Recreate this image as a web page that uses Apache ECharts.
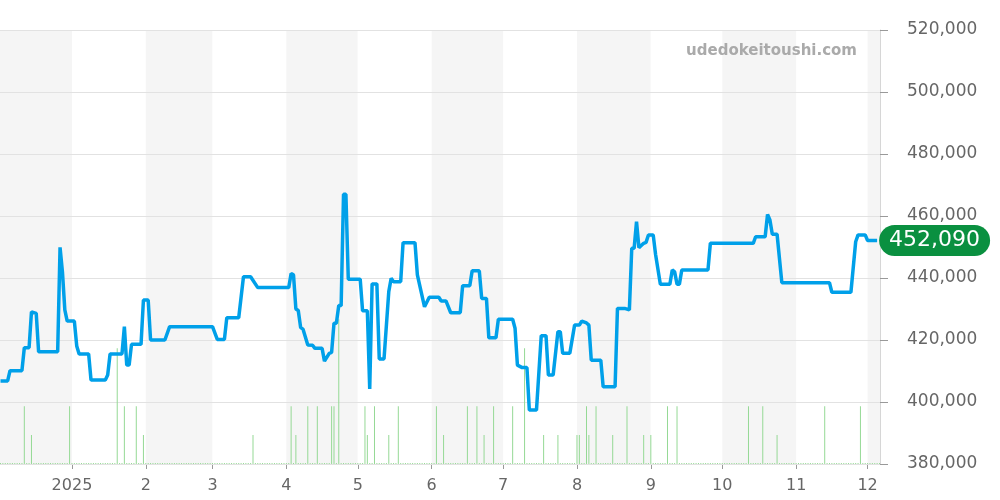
<!DOCTYPE html>
<html>
<head>
<meta charset="utf-8">
<script src="https://cdn.jsdelivr.net/npm/echarts@6/dist/echarts.min.js"></script>
<style>
  html, body { margin: 0; padding: 0; background: #fff; }
  #main { width: 1000px; height: 500px; }
</style>
</head>
<body>
<div id="main"></div>
<script>
// price line (date, yen)
var priceDates = [
  "2024-12-02", "2024-12-05", "2024-12-06", "2024-12-11", "2024-12-12", "2024-12-14", "2024-12-15", "2024-12-17",
  "2024-12-18", "2024-12-26", "2024-12-27", "2024-12-28", "2024-12-29", "2024-12-30", "2025-01-02", "2025-01-03",
  "2025-01-04", "2025-01-08", "2025-01-09", "2025-01-15", "2025-01-16", "2025-01-17", "2025-01-22", "2025-01-23",
  "2025-01-24", "2025-01-25", "2025-01-26", "2025-01-30", "2025-01-31", "2025-02-02", "2025-02-03", "2025-02-09",
  "2025-02-11", "2025-03-01", "2025-03-03", "2025-03-06", "2025-03-07", "2025-03-12", "2025-03-14", "2025-03-17",
  "2025-03-20", "2025-04-02", "2025-04-03", "2025-04-04", "2025-04-05", "2025-04-06", "2025-04-07", "2025-04-08",
  "2025-04-10", "2025-04-12",
  "2025-04-13", "2025-04-16", "2025-04-17", "2025-04-19", "2025-04-20", "2025-04-21", "2025-04-22", "2025-04-23",
  "2025-04-24", "2025-04-25", "2025-04-26", "2025-04-27", "2025-05-02", "2025-05-03", "2025-05-05", "2025-05-06",
  "2025-05-07", "2025-05-09", "2025-05-10", "2025-05-12", "2025-05-14", "2025-05-15", "2025-05-16", "2025-05-19",
  "2025-05-20", "2025-05-25", "2025-05-26", "2025-05-29", "2025-05-31", "2025-06-04", "2025-06-05", "2025-06-07",
  "2025-06-09", "2025-06-13", "2025-06-14", "2025-06-17", "2025-06-18", "2025-06-21", "2025-06-22", "2025-06-24",
  "2025-06-25", "2025-06-28", "2025-06-29", "2025-07-05", "2025-07-06", "2025-07-07", "2025-07-09", "2025-07-11",
  "2025-07-12", "2025-07-15", "2025-07-17", "2025-07-19", "2025-07-20", "2025-07-22", "2025-07-24", "2025-07-25",
  "2025-07-26", "2025-07-29", "2025-07-31", "2025-08-02", "2025-08-03", "2025-08-05", "2025-08-06", "2025-08-07",
  "2025-08-11", "2025-08-12", "2025-08-17", "2025-08-18", "2025-08-21", "2025-08-23", "2025-08-24", "2025-08-25",
  "2025-08-26", "2025-08-27", "2025-08-29", "2025-08-30", "2025-08-31", "2025-09-02", "2025-09-03", "2025-09-05",
  "2025-09-09", "2025-09-10", "2025-09-11", "2025-09-12", "2025-09-13", "2025-09-14", "2025-09-25", "2025-09-26",
  "2025-10-14", "2025-10-15", "2025-10-19", "2025-10-20", "2025-10-21", "2025-10-22", "2025-10-24", "2025-10-26",
  "2025-11-15", "2025-11-16", "2025-11-24", "2025-11-26", "2025-11-27", "2025-11-30", "2025-12-01", "2025-12-05"
];
var priceValues = [
  406800, 406800, 410100, 410100, 417500, 417500, 429100, 428600,
  416200, 416200, 449900, 442000, 429700, 426100, 426100, 418100,
  415500, 415500, 407100, 407100, 408700, 415500, 415500, 424300,
  411900, 411900, 418600, 418600, 432900, 432900, 420000, 420000,
  424300, 424300, 420200, 420200, 427200, 427200, 440400, 440400,
  436900, 436900, 441400, 441000, 430000, 429500, 424000, 423500,
  418400, 418300,
  417300, 417300, 413200, 415700, 416000, 425400, 425400, 431100,
  431100, 467000, 467000, 439600, 439600, 429400, 429400, 404200,
  438100, 438100, 413900, 413900, 435600, 439900, 438800, 438800,
  451400, 451400, 441000, 430700, 433800, 433800, 432600, 432600,
  428800, 428800, 437500, 437500, 442300, 442300, 433400, 433400,
  420700, 420700, 426700, 426700, 423800, 411900, 411100, 411100,
  397400, 397400, 421400, 421400, 408700, 408700, 422700, 422700,
  415700, 415700, 424800, 424800, 426100, 425500, 424800, 413500,
  413500, 404900, 404900, 430200, 430200, 429700, 449600, 449600,
  458200, 449800, 451200, 451500, 453900, 453900, 447600, 438000,
  438000, 442600, 442000, 438000, 438000, 442600, 442600, 451200,
  451200, 453300, 453300, 460500, 458700, 454100, 454100, 438500,
  438500, 435400, 435400, 451700, 453900, 453900, 452090, 452090
];

// sales count per day
var volDates = [
  "2024-12-12", "2024-12-15", "2024-12-31", "2025-01-20", "2025-01-23", "2025-01-28", "2025-01-31", "2025-03-18",
  "2025-04-03", "2025-04-05", "2025-04-10", "2025-04-14", "2025-04-20", "2025-04-21", "2025-04-23", "2025-05-04",
  "2025-05-05", "2025-05-08", "2025-05-14", "2025-05-18", "2025-06-03", "2025-06-06", "2025-06-16", "2025-06-20",
  "2025-06-23", "2025-06-27", "2025-07-05", "2025-07-10", "2025-07-18", "2025-07-24", "2025-08-01", "2025-08-02",
  "2025-08-05", "2025-08-06", "2025-08-09", "2025-08-16", "2025-08-22", "2025-08-29", "2025-09-01", "2025-09-08",
  "2025-09-12", "2025-10-12", "2025-10-18", "2025-10-24", "2025-11-13", "2025-11-28"
];
var volCounts = [
  2, 1, 2, 4, 2, 2, 1, 1,
  2, 1, 2, 2, 2, 2, 5, 2,
  1, 2, 1, 2, 2, 1, 2, 2,
  1, 2, 2, 4, 1, 1, 1, 1,
  2, 1, 2, 1, 2, 1, 1, 2,
  2, 2, 2, 1, 2, 2
];

var xMin = "2024-12-02";
var xMax = "2025-12-06";
var yMin = 380000;
var yMax = 520000;
var yStep = 20000;

var linePoints = priceDates.map(function (d, i) { return [d, priceValues[i]]; });

// one bar per day, empty days stay at zero
var volMap = {};
volDates.forEach(function (d, i) { volMap[d] = volCounts[i]; });
var volData = [];
var day = new Date(xMin + "T00:00:00");
var end = new Date(xMax + "T00:00:00");
while (day <= end) {
  var key = day.getFullYear() + "-" + String(day.getMonth() + 1).padStart(2, "0") + "-" + String(day.getDate()).padStart(2, "0");
  volData.push([key, volMap[key] || 0]);
  day.setDate(day.getDate() + 1);
}

var chart = echarts.init(document.getElementById("main"));
var font = "DejaVu Sans";

var option = {
  animation: false,
  textStyle: { fontFamily: font },
  grid: { left: 0, right: 120, top: 30, bottom: 36 },
  graphic: [{
    type: "text",
    right: 143,
    top: 44,
    z: 10,
    style: {
      text: "udedokeitoushi.com",
      fontSize: 15,
      fontWeight: "bold",
      fontFamily: font,
      fill: "#aaaaaa"
    }
  }],
  xAxis: {
    type: "time",
    min: xMin,
    max: xMax,
    splitNumber: 12,
    z: 0,
    axisLine: { show: false },
    axisTick: { show: true, length: 5, lineStyle: { color: "#999" } },
    axisLabel: {
      color: "#666",
      fontSize: 16,
      margin: 14,
      showMinLabel: false,
      showMaxLabel: false,
      formatter: function (val) {
        var d = new Date(val);
        return d.getMonth() === 0 ? String(d.getFullYear()) : String(d.getMonth() + 1);
      }
    },
    splitLine: { show: false },
    splitArea: { show: true, areaStyle: { color: ["#f5f5f5", "#ffffff"] } }
  },
  yAxis: [
    {
      type: "value",
      position: "right",
      min: yMin,
      max: yMax,
      interval: yStep,
      z: 1,
      axisLine: { show: true, lineStyle: { color: "#d6d6d6" } },
      axisTick: { show: true, length: 8, lineStyle: { color: "#999" } },
      axisLabel: {
        color: "#666",
        fontSize: 17,
        margin: 27,
        formatter: function (v) { return v.toLocaleString("en-US"); }
      },
      splitLine: { lineStyle: { color: "#e2e2e2" } }
    },
    {
      type: "value",
      min: 0,
      max: 15,
      show: false
    }
  ],
  series: [
    {
      name: "count",
      type: "bar",
      yAxisIndex: 1,
      data: volData,
      barWidth: 1,
      barMinHeight: 1,
      itemStyle: { color: "#95d995" },
      z: 2
    },
    {
      name: "price",
      type: "line",
      data: linePoints,
      symbol: "none",
      lineStyle: { color: "#00a0e9", width: 3.5 },
      z: 3,
      endLabel: {
        show: true,
        distance: 2,
        formatter: function (p) { return p.value[1].toLocaleString("en-US"); },
        color: "#fff",
        fontSize: 22,
        fontFamily: font,
        backgroundColor: "#0a9040",
        borderRadius: 17,
        padding: [5, 10, 4, 10]
      }
    }
  ]
};

chart.setOption(option);
</script>
</body>
</html>
